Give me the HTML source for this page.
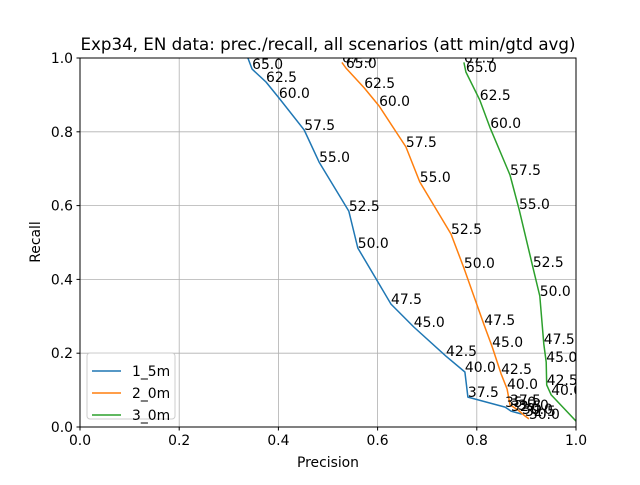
<!DOCTYPE html>
<html><head><meta charset="utf-8"><style>
body{margin:0;background:#fff}
svg{font-family:"DejaVu Sans","Liberation Sans",sans-serif}
</style></head><body>
<svg id="chart" width="640" height="480" viewBox="0 0 640 480">
<rect width="640" height="480" fill="#fff"/>
<text x="328" y="50" font-size="16.7" text-anchor="middle">Exp34, EN data: prec./recall, all scenarios (att min/gtd avg)</text>
<g id="grid"></g>
<defs><clipPath id="plotclip"><rect x="80" y="58" width="496" height="369"/></clipPath></defs>
<g id="series" clip-path="url(#plotclip)"></g>
<g id="labels" clip-path="url(#plotclip)"></g>
<rect x="80" y="58" width="496" height="369" fill="none" stroke="#000" stroke-width="1"/>
<g id="ticks"></g>
<text x="328" y="467" font-size="13.9" text-anchor="middle">Precision</text>
<text x="0" y="0" font-size="13.9" text-anchor="middle" transform="translate(40,242) rotate(-90)">Recall</text>
<g id="legend">
<rect x="87" y="353" width="88" height="66" rx="3" fill="#fff" fill-opacity="0.8" stroke="#ccc"/>
</g>
</svg>
<script>
const tickValues = [0, 0.2, 0.4, 0.6, 0.8, 1.0];
const tickLabels = ["0.0", "0.2", "0.4", "0.6", "0.8", "1.0"];
const seriesNames = ["1_5m", "2_0m", "3_0m"];
const seriesColors = ["#1f77b4", "#ff7f0e", "#2ca02c"];
const labels15 = ["67.5","65.0","62.5","60.0","57.5","55.0","52.5","50.0","47.5","45.0","42.5","40.0","37.5","35.0","32.5","30.0"];
const prec15 = [0.33,0.347,0.375,0.401,0.452,0.482,0.542,0.560,0.627,0.673,0.738,0.776,0.782,0.857,0.869,0.891];
const rec15 = [1.03,0.970,0.935,0.892,0.805,0.718,0.585,0.485,0.333,0.271,0.192,0.149,0.081,0.054,0.043,0.035];
const labels20 = ["67.5","65.0","62.5","60.0","57.5","55.0","52.5","50.0","47.5","45.0","42.5","40.0","37.5","35.0","32.5","30.0"];
const prec20 = [0.528,0.536,0.573,0.603,0.657,0.685,0.748,0.774,0.815,0.831,0.849,0.861,0.867,0.883,0.897,0.905];
const rec20 = [0.988,0.973,0.919,0.870,0.759,0.664,0.523,0.431,0.276,0.217,0.144,0.103,0.060,0.046,0.030,0.022];
const labels30 = ["67.5","65.0","62.5","60.0","57.5","55.0","52.5","50.0","47.5","45.0","42.5","40.0","37.5","35.0","32.5","30.0"];
const prec30 = [0.774,0.778,0.806,0.827,0.867,0.885,0.913,0.927,0.935,0.940,0.941,0.950,1.0,1.005,1.01,1.015];
const rec30 = [0.988,0.962,0.886,0.810,0.683,0.591,0.434,0.355,0.225,0.176,0.114,0.087,0.016,0.014,0.012,0.010];

const NS = "http://www.w3.org/2000/svg";
const X0 = 80, X1 = 576, Y0 = 427, Y1 = 58;
function xs(v){ return X0 + v * (X1 - X0); }
function ys(v){ return Y0 - v * (Y0 - Y1); }
function mk(tag, attrs, parent){
  const e = document.createElementNS(NS, tag);
  for (const k in attrs) e.setAttribute(k, attrs[k]);
  parent.appendChild(e);
  return e;
}
const grid = document.getElementById("grid");
const ticks = document.getElementById("ticks");
tickValues.forEach((v, i) => {
  const gx = mk("line", {x1: xs(v), x2: xs(v), y1: Y1, y2: Y0, stroke: "#b0b0b0", "stroke-width": 0.8}, grid);
  
  
  const gy = mk("line", {x1: X0, x2: X1, y1: ys(v), y2: ys(v), stroke: "#b0b0b0", "stroke-width": 0.8}, grid);
  
  
  mk("line", {x1: xs(v), x2: xs(v), y1: Y0, y2: Y0 + 3.5, stroke: "#000"}, ticks);
  mk("line", {x1: X0 - 3.5, x2: X0, y1: ys(v), y2: ys(v), stroke: "#000"}, ticks);
  const tx = mk("text", {x: xs(v), y: Y0 + 18, "font-size": 13.9, "text-anchor": "middle"}, ticks);
  tx.textContent = tickLabels[i];
  
  
  const ty = mk("text", {x: X0 - 7, y: ys(v) + 5, "font-size": 13.9, "text-anchor": "end"}, ticks);
  ty.textContent = tickLabels[i];
  
  
});
const allPrec = [prec15, prec20, prec30];
const allRec = [rec15, rec20, rec30];
const allLab = [labels15, labels20, labels30];
const series = document.getElementById("series");
const labelsG = document.getElementById("labels");
const legend = document.getElementById("legend");
for (let s = 0; s < 3; s++) {
  const pts = allPrec[s].map((p, i) => xs(p).toFixed(1) + "," + ys(allRec[s][i]).toFixed(1)).join(" ");
  const pl = mk("polyline", {points: pts, fill: "none", stroke: seriesColors[s], "stroke-width": 1.5, "stroke-linejoin": "round"}, series);
  
  
  allLab[s].forEach((t, i) => {
    const x = xs(allPrec[s][i]), y = ys(allRec[s][i]);
    const tl = mk("text", {x: x, y: y, "font-size": 13.9}, labelsG);
    tl.textContent = t;
    
    
  });
  const ly = 371 + s * 22;
  mk("line", {x1: 92, x2: 121, y1: ly, y2: ly, stroke: seriesColors[s], "stroke-width": 1.5}, legend);
  const lt = mk("text", {x: 132, y: ly + 5, "font-size": 13.9}, legend);
  lt.textContent = seriesNames[s];
  
  
}
</script>
</body></html>
